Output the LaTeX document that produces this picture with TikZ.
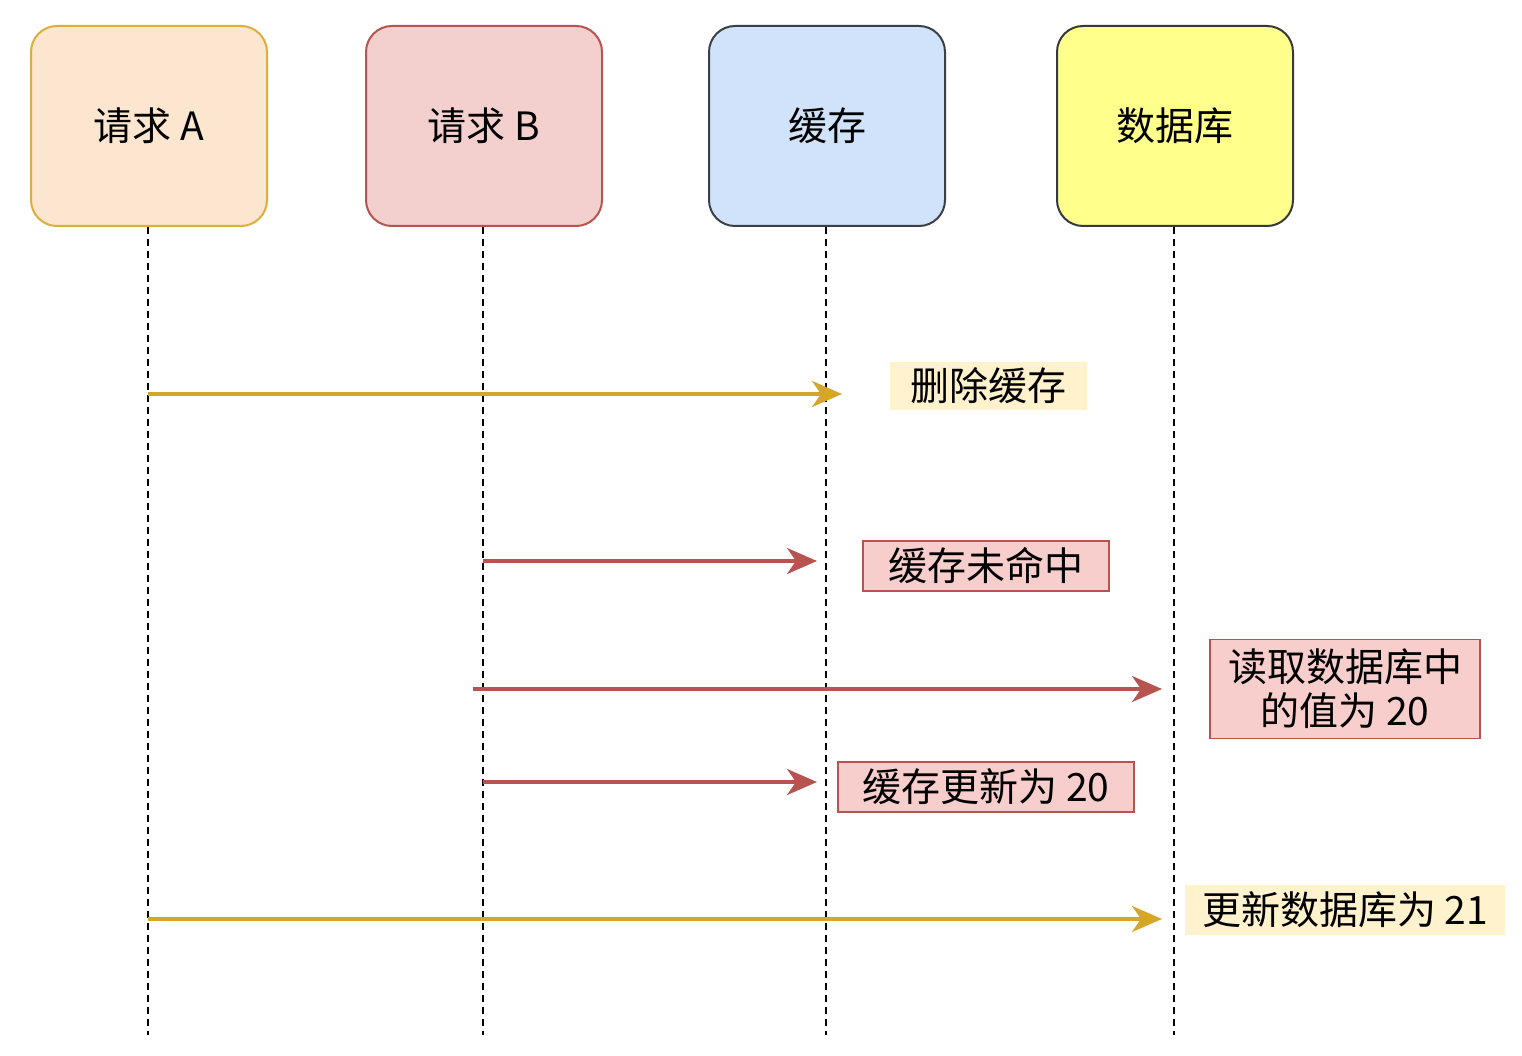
\documentclass[tikz,border=0pt]{standalone}
\usepackage{fontspec}
\setmainfont{Noto Sans CJK SC}
\usetikzlibrary{arrows.meta}
\definecolor{aFill}{HTML}{FCE6CF}
\definecolor{aLine}{HTML}{DDAE3A}
\definecolor{bFill}{HTML}{F3CFCD}
\definecolor{bLine}{HTML}{B85450}
\definecolor{cFill}{HTML}{D0E3FA}
\definecolor{cLine}{HTML}{3A4048}
\definecolor{dFill}{HTML}{FFFF8C}
\definecolor{dLine}{HTML}{36393D}
\definecolor{gold}{HTML}{D6A62B}
\definecolor{yNote}{HTML}{FFF2CC}
\definecolor{rNote}{HTML}{F8CECC}
\tikzset{
  actor/.style={rounded corners=26pt, line width=2pt, minimum width=236pt, minimum height=200pt, inner sep=0pt, font=\fontsize{39}{45}\selectfont},
  lifeline/.style={line width=2.2pt, dash pattern=on 7pt off 5pt},
  msgA/.style={line width=3.5pt, gold, -{Stealth[length=30pt,width=26pt,inset=9pt]}},
  msgB/.style={line width=3.5pt, bLine, -{Stealth[length=30pt,width=26pt,inset=9pt]}},
  note/.style={inner sep=0pt, font=\fontsize{39}{47}\selectfont, align=center},
}
\begin{document}
\begin{tikzpicture}[x=1pt,y=-1pt]
\useasboundingbox (0,0) rectangle (1522,1056);
\fill[white] (0,0) rectangle (1522,1056);
% actors
\node[actor, fill=aFill, draw=aLine] (A) at (149,126) {请求 A};
\node[actor, fill=bFill, draw=bLine] (B) at (484,126) {请求 B};
\node[actor, fill=cFill, draw=cLine] (C) at (827,126) {缓存};
\node[actor, fill=dFill, draw=dLine] (D) at (1175,126) {数据库};
% lifeline ends
\coordinate (Ae) at (148,1035);
\coordinate (Be) at (483,1035);
\coordinate (Ce) at (826,1035);
\coordinate (De) at (1174,1035);
\draw[lifeline] (A.south -| Ae) -- (Ae);
\draw[lifeline] (B.south -| Be) -- (Be);
\draw[lifeline] (C.south -| Ce) -- (Ce);
\draw[lifeline] (D.south -| De) -- (De);
% message points
\coordinate (m1s) at (148,394);  \coordinate (m1e) at (842,394);
\coordinate (m2s) at (483,561);  \coordinate (m2e) at (817,561);
\coordinate (m3s) at (473,689);  \coordinate (m3e) at (1162,689);
\coordinate (m4s) at (483,782);  \coordinate (m4e) at (817,782);
\coordinate (m5s) at (148,919);  \coordinate (m5e) at (1162,919);
\draw[msgA] (m1s) -- (m1e);
\draw[msgB] (m2s) -- (m2e);
\draw[msgB] (m3s) -- (m3e);
\draw[msgB] (m4s) -- (m4e);
\draw[msgA] (m5s) -- (m5e);
% notes
\node[note, fill=yNote, minimum width=197pt, minimum height=48pt] (n1) at (988,386) {删除缓存};
\node[note, fill=rNote, draw=bLine, line width=1.5pt, minimum width=246pt, minimum height=50pt] (n2) at (986,566) {缓存未命中};
\node[note, fill=rNote, draw=bLine, line width=1.5pt, minimum width=270pt, minimum height=99pt] (n3) at (1345,689) {读取数据库中\\[-3pt]的值为 20};
\node[note, fill=rNote, draw=bLine, line width=1.5pt, minimum width=296pt, minimum height=50pt] (n4) at (986,787) {缓存更新为 20};
\node[note, fill=yNote, minimum width=320pt, minimum height=50pt] (n5) at (1345,910) {更新数据库为 21};
\end{tikzpicture}
\end{document}
